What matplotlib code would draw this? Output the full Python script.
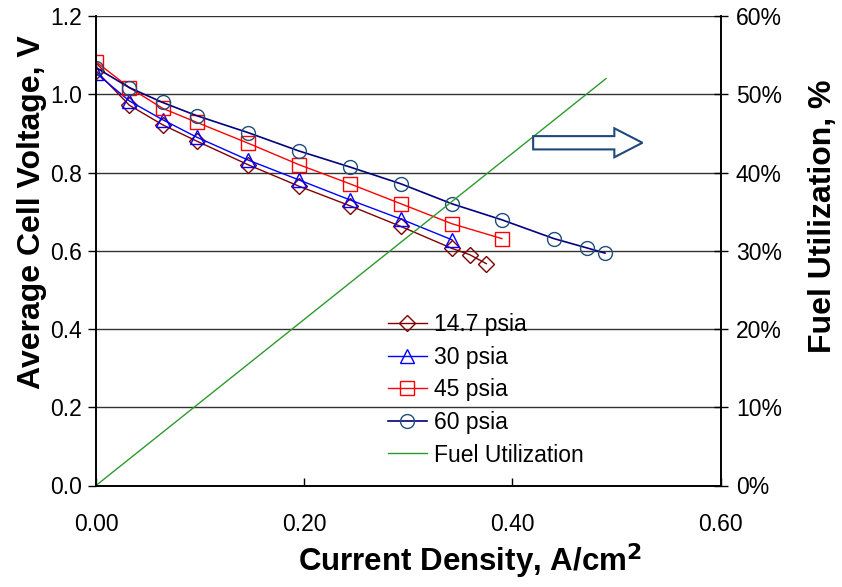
import matplotlib
matplotlib.use("Agg")
import matplotlib.pyplot as plt
from matplotlib.patches import FancyArrow
from matplotlib.ticker import FuncFormatter

plt.rcParams['font.family'] = ['Liberation Sans', 'DejaVu Sans']

# current density, A/cm2 and average cell voltage, V
x_147 = [0, 0.032, 0.064, 0.097, 0.146, 0.195, 0.244, 0.293, 0.342, 0.359, 0.375]
v_147 = [1.060, 0.972, 0.922, 0.880, 0.820, 0.765, 0.715, 0.662, 0.606, 0.590, 0.567]

x_30 = [0, 0.032, 0.064, 0.097, 0.146, 0.195, 0.244, 0.293, 0.342]
v_30 = [1.054, 0.983, 0.935, 0.890, 0.832, 0.781, 0.730, 0.681, 0.628]

x_45 = [0, 0.032, 0.064, 0.097, 0.146, 0.195, 0.244, 0.293, 0.342, 0.390]
v_45 = [1.083, 1.017, 0.964, 0.928, 0.875, 0.820, 0.771, 0.720, 0.669, 0.631]

x_60 = [0, 0.032, 0.064, 0.097, 0.146, 0.195, 0.244, 0.293, 0.342, 0.390, 0.440, 0.472, 0.489]
v_60 = [1.068, 1.017, 0.979, 0.945, 0.902, 0.855, 0.814, 0.771, 0.720, 0.679, 0.631, 0.607, 0.594]

# fuel utilization, %
x_fuel = [0, 0.49]
fuel = [0, 52]

x_ticks = [0, 0.2, 0.4, 0.6]
v_ticks = [0, 0.2, 0.4, 0.6, 0.8, 1.0, 1.2]
fu_ticks = [0, 10, 20, 30, 40, 50, 60]


fig = plt.figure(figsize=(8.42, 5.87), dpi=100)
ax = fig.add_axes([96/842, 1-485.5/587, (720.5-96)/842, (485.5-16)/587])
ax2 = ax.twinx()

ms = 10
l1, = ax.plot(x_147, v_147, color='#800000', lw=1, marker='D', ms=ms*0.8,
              mfc='none', mec='#800000', mew=1, label='14.7 psia')
l2, = ax.plot(x_30, v_30, color='#0000FF', lw=1, marker='^', ms=ms,
              mfc='none', mec='#0000FF', mew=1, label='30 psia')
l3, = ax.plot(x_45, v_45, color='#FF0000', lw=1, marker='s', ms=ms*0.95,
              mfc='none', mec='#FF0000', mew=1, label='45 psia')
l4, = ax.plot(x_60, v_60, color='#000080', lw=1.2, marker='o', ms=ms,
              mfc='none', mec='#1F4E79', mew=1, label='60 psia')
l5, = ax2.plot(x_fuel, fuel, color='#2E9A2E', lw=1, label='Fuel Utilization')

ax.set_xlim(0, 0.6)
ax.set_ylim(0, 1.2)
ax2.set_ylim(0, 60)
ax.set_xticks(x_ticks)
ax.set_yticks(v_ticks)
ax2.set_yticks(fu_ticks)
ax.xaxis.set_major_formatter(FuncFormatter(lambda v, p: f"{v:.2f}"))
ax.yaxis.set_major_formatter(FuncFormatter(lambda v, p: f"{v:.1f}"))
ax2.yaxis.set_major_formatter(FuncFormatter(lambda v, p: f"{int(v)}%"))

ax.grid(axis='y', color='#333333', lw=1)
ax.set_axisbelow(True)
for a in (ax, ax2):
    a.spines['top'].set_visible(False)
    for s in a.spines.values():
        s.set_linewidth(1.2)

ax.tick_params(axis='x', direction='in', length=6, width=1, labelsize=16.5, pad=20)
ax.tick_params(axis='y', direction='out', length=6, width=1, labelsize=16.5, pad=4)
ax2.tick_params(axis='y', direction='inout', length=10, width=1, labelsize=16.5, pad=6)

fig.text(470/842, 1-561/587, 'Current Density, A/cm$^\\mathbf{2}$', ha='center', va='center',
         fontsize=22.5, fontweight='bold')
fig.text(32/842, 1-212/587, 'Average Cell Voltage, V', ha='center', va='center',
         rotation=90, fontsize=23, fontweight='bold')
fig.text(823/842, 1-216/587, 'Fuel Utilization, %', ha='center', va='center',
         rotation=90, fontsize=23, fontweight='bold')

# block arrow pointing to the right axis (drawn in voltage units)
arrow = FancyArrow(0.42, 0.876, 0.078, 0, width=0.034, head_width=0.074,
                   head_length=0.027, length_includes_head=False,
                   facecolor='white', edgecolor='#1F497D', lw=1.5, zorder=5)
ax2.add_patch(arrow)
arrow.set_transform(ax.transData)
ax2.set_ylim(0, 60)

leg = ax2.legend(handles=[l1, l2, l3, l4, l5], loc='upper left',
                 bbox_to_anchor=(388/842, 1-313/587), bbox_transform=fig.transFigure,
                 frameon=False, fontsize=16.5, handlelength=1.7, handletextpad=0.3,
                 labelspacing=0.42, borderpad=0, borderaxespad=0)

fig.savefig('out.png', dpi=100)
